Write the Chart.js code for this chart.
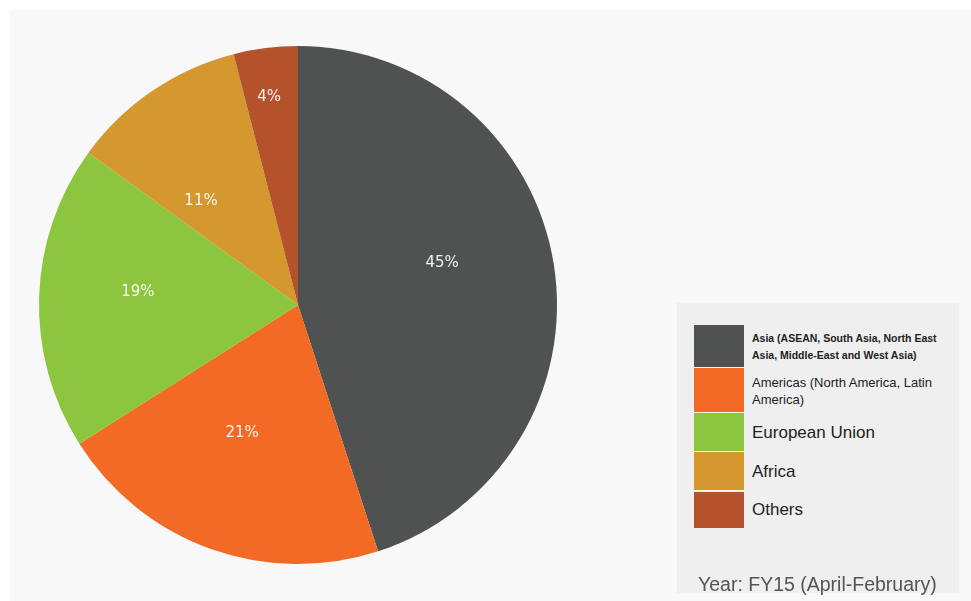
<!DOCTYPE html>
<html>
<head>
<meta charset="utf-8">
<script src="https://cdn.jsdelivr.net/npm/chart.js@4.4.1/dist/chart.umd.min.js"></script>
<style>
  html, body { margin: 0; padding: 0; background: #ffffff; }
  #wrap { position: relative; width: 971px; height: 601px; overflow: hidden; }
  #panel { position: absolute; left: 10px; top: 10px; right: 0; bottom: 0; background: #f8f8f8; }
  #pie { position: absolute; left: 0; top: 0; }
  #legend {
    position: absolute; left: 677px; top: 303px; width: 282px; height: 290px;
    background: #efefef; font-family: Arial, "Liberation Sans", sans-serif;
  }
  #legend .row { position: absolute; left: 17px; display: flex; align-items: center; }
  #legend .swatch { width: 50px; flex: none; }
  #legend .text { margin-left: 8px; width: 188px; color: #222; }
  #legend .year {
    position: absolute; left: 21px; top: 270px; font-size: 19.5px; color: #555; white-space: nowrap;
  }
</style>
</head>
<body>
<div id="wrap">
  <div id="panel"></div>
  <canvas id="pie" width="971" height="601"></canvas>
  <div id="legend"></div>
</div>
<script>
// export share by destination, FY15
const regions = [
  'Asia (ASEAN, South Asia, North East Asia, Middle-East and West Asia)',
  'Americas (North America, Latin America)',
  'European Union',
  'Africa',
  'Others'
];
const shares = [45, 21, 19, 11, 4];
const sliceColors = ['#505251', '#f26a23', '#8cc63f', '#d4982e', '#b4522b'];
const yearNote = 'Year: FY15 (April-February)';

// where each percentage sits: fraction along the slice's sweep, fraction of radius
const labelSweep = [0.455, 0.55, 0.54, 0.28, 0.45];
const labelRadius = [0.58, 0.54, 0.62, 0.55, 0.81];
// legend row heights and text sizes
const rowHeights = [43, 45, 39, 39, 37];
const rowFont = [10.5, 13, 17, 17, 17];
const rowLine = [17, 17, 20, 20, 20];

const legend = document.getElementById('legend');
let rowTop = 22;
regions.forEach((name, i) => {
  const row = document.createElement('div');
  row.className = 'row';
  row.style.top = rowTop + 'px';
  row.style.height = rowHeights[i] + 'px';
  const sw = document.createElement('div');
  sw.className = 'swatch';
  sw.style.height = (rowHeights[i] - 1) + 'px';
  sw.style.background = sliceColors[i];
  sw.style.borderBottom = i < regions.length - 1 ? '1px solid #fbf6dc' : 'none';
  const tx = document.createElement('div');
  tx.className = 'text';
  tx.style.fontSize = rowFont[i] + 'px';
  tx.style.lineHeight = rowLine[i] + 'px';
  if (i === 0) tx.style.fontWeight = 'bold';
  tx.textContent = name;
  row.appendChild(sw);
  row.appendChild(tx);
  legend.appendChild(row);
  rowTop += rowHeights[i];
});
const yr = document.createElement('div');
yr.className = 'year';
yr.textContent = yearNote;
legend.appendChild(yr);

const pctLabels = {
  id: 'pctLabels',
  afterDatasetsDraw(chart) {
    const ctx = chart.ctx;
    const meta = chart.getDatasetMeta(0);
    ctx.save();
    ctx.font = '15px "DejaVu Sans", sans-serif';
    ctx.fillStyle = 'rgba(255,255,255,0.92)';
    ctx.textAlign = 'center';
    ctx.textBaseline = 'middle';
    meta.data.forEach((arc, i) => {
      const p = arc.getProps(['x', 'y', 'startAngle', 'endAngle', 'outerRadius'], true);
      const a = p.startAngle + (p.endAngle - p.startAngle) * labelSweep[i];
      const r = p.outerRadius * labelRadius[i];
      ctx.fillText(shares[i] + '%', p.x + Math.cos(a) * r, p.y + Math.sin(a) * r);
    });
    ctx.restore();
  }
};

new Chart(document.getElementById('pie'), {
  type: 'pie',
  data: {
    labels: regions,
    datasets: [{
      data: shares,
      backgroundColor: sliceColors,
      borderWidth: 0
    }]
  },
  options: {
    responsive: false,
    animation: false,
    layout: { padding: { left: 39, right: 414, top: 46, bottom: 37 } },
    plugins: {
      legend: { display: false },
      tooltip: { enabled: false }
    }
  },
  plugins: [pctLabels]
});
</script>
</body>
</html>
